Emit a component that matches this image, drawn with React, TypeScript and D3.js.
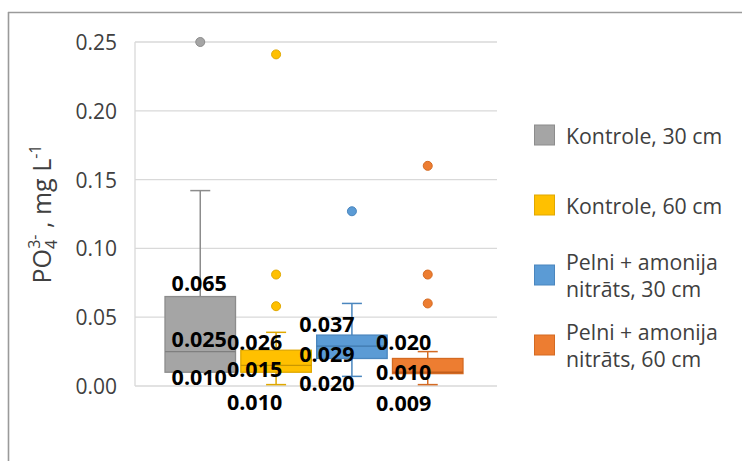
import React from "react";
import * as d3 from "d3";

const categories = [
  "Kontrole, 30 cm",
  "Kontrole, 60 cm",
  "Pelni + amonija nitrāts, 30 cm",
  "Pelni + amonija nitrāts, 60 cm",
];
const legendLines = [
  ["Kontrole, 30 cm"],
  ["Kontrole, 60 cm"],
  ["Pelni + amonija", "nitrāts, 30 cm"],
  ["Pelni + amonija", "nitrāts, 60 cm"],
];
const q1 = [0.01, 0.01, 0.02, 0.009];
const median = [0.025, 0.015, 0.029, 0.01];
const q3 = [0.065, 0.026, 0.037, 0.02];
const whiskerLow = [0.01, 0.001, 0.007, 0.001];
const whiskerHigh = [0.142, 0.039, 0.06, 0.025];
const outliers = [[0.25], [0.241, 0.081, 0.058], [0.127], [0.16, 0.081, 0.06]];
const yTicks = [0, 0.05, 0.1, 0.15, 0.2, 0.25];

// styling
const fills = ["#A5A5A5", "#FFC000", "#5B9BD5", "#ED7D31"];
const strokes = ["#8C8C8C", "#E0A800", "#4A86BE", "#D46A22"];
const medianStroke = ["#7f7f7f", "#C99700", "#3F78AD", "#C25E1C"];
// label placement offsets (px) relative to value position: [q3, median, q1]
const labelDx = [-1, -21.5, -25, -24];
const labelDy = [
  [-14, -13, 4],
  [-8.5, 3.6, 29.5],
  [-12, 7, 24.5],
  [-17, -0.5, 29],
];

const W = 742;
const H = 461;
const plotLeft = 135;
const plotRight = 497;

export default function App() {
  const y = d3.scaleLinear().domain([0, 0.25]).range([386, 42]);
  const x = d3
    .scaleBand<string>()
    .domain(categories)
    .range([165, 463])
    .paddingInner(0.07)
    .paddingOuter(0);
  const bw = x.bandwidth();
  const fmt = d3.format(".3f");
  const tickFmt = d3.format(".2f");
  const font = "'Open Sans', 'Liberation Sans', sans-serif";

  return (
    <svg
      width={W}
      height={H}
      style={{ position: "absolute", left: 0, top: 0, background: "#fff" }}
      fontFamily={font}
    >
      <rect x={0} y={0} width={W} height={H} fill="#fff" />
      {/* outer frame */}
      <line x1={8.5} y1={12} x2={8.5} y2={H} stroke="#9a9a9a" strokeWidth={1.6} />
      <line x1={8} y1={12.5} x2={W} y2={12.5} stroke="#9a9a9a" strokeWidth={1.6} />

      {/* gridlines */}
      {yTicks.map((t) => (
        <line
          key={"g" + t}
          x1={plotLeft}
          x2={plotRight}
          y1={y(t)}
          y2={y(t)}
          stroke="#d9d9d9"
          strokeWidth={1.3}
        />
      ))}
      <line x1={plotLeft} x2={plotLeft} y1={y(0.25)} y2={y(0)} stroke="#d9d9d9" strokeWidth={1.3} />

      {/* tick labels */}
      {yTicks.map((t) => (
        <text
          key={"t" + t}
          x={117}
          y={y(t)}
          textAnchor="end"
          dominantBaseline="central"
          fontSize={21}
          fill="#404040"
        >
          {tickFmt(t)}
        </text>
      ))}

      {/* y axis title */}
      <text
        transform={`translate(51, ${214}) rotate(-90)`}
        textAnchor="middle"
        fontSize={25}
        fill="#404040"
      >
        <tspan>PO</tspan>
        <tspan fontSize={16} dy={6}>4</tspan>
        <tspan fontSize={16} dx={-9} dy={-17}>3-</tspan>
        <tspan dy={11}> , mg L</tspan>
        <tspan fontSize={16} dy={-10}>-1</tspan>
      </text>

      {/* boxes */}
      {categories.map((c, i) => {
        const x0 = x(c)!;
        const cx = x0 + bw / 2;
        return (
          <g key={c}>
            <line x1={cx} x2={cx} y1={y(whiskerHigh[i])} y2={y(q3[i])} stroke={strokes[i]} strokeWidth={1.5} />
            <line x1={cx} x2={cx} y1={y(q1[i])} y2={y(whiskerLow[i])} stroke={strokes[i]} strokeWidth={1.5} />
            <line x1={cx - 10} x2={cx + 10} y1={y(whiskerHigh[i])} y2={y(whiskerHigh[i])} stroke={strokes[i]} strokeWidth={1.5} />
            <line x1={cx - 10} x2={cx + 10} y1={y(whiskerLow[i])} y2={y(whiskerLow[i])} stroke={strokes[i]} strokeWidth={1.5} />
            <rect
              x={x0}
              y={y(q3[i])}
              width={bw}
              height={y(q1[i]) - y(q3[i])}
              fill={fills[i]}
              stroke={strokes[i]}
              strokeWidth={1.3}
            />
            <line x1={x0} x2={x0 + bw} y1={y(median[i])} y2={y(median[i])} stroke={medianStroke[i]} strokeWidth={1.3} />
            {outliers[i].map((o, j) => (
              <circle key={j} cx={cx} cy={y(o)} r={4.5} fill={fills[i]} stroke={strokes[i]} strokeWidth={1} />
            ))}
          </g>
        );
      })}

      {/* data labels */}
      {categories.map((c, i) => {
        const cx = x(c)! + bw / 2 + labelDx[i];
        const vals = [q3[i], median[i], q1[i]];
        return vals.map((v, k) => (
          <text
            key={c + k}
            x={cx}
            y={y(v) + labelDy[i][k]}
            textAnchor="middle"
            dominantBaseline="central"
            fontSize={21.5}
            fontWeight="bold"
            fill="#000"
          >
            {fmt(v)}
          </text>
        ));
      })}

      {/* legend */}
      {categories.map((c, i) => {
        const cy = 135 + i * 70;
        const lines = legendLines[i];
        return (
          <g key={"l" + c}>
            <rect x={534.5} y={cy - 10} width={20} height={20} fill={fills[i]} stroke={strokes[i]} strokeWidth={1} />
            {lines.map((ln, k) => (
              <text
                key={k}
                x={566}
                y={cy + (k - (lines.length - 1) / 2) * 27}
                dominantBaseline="central"
                fontSize={21.3}
                fill="#404040"
              >
                {ln}
              </text>
            ))}
          </g>
        );
      })}
    </svg>
  );
}
